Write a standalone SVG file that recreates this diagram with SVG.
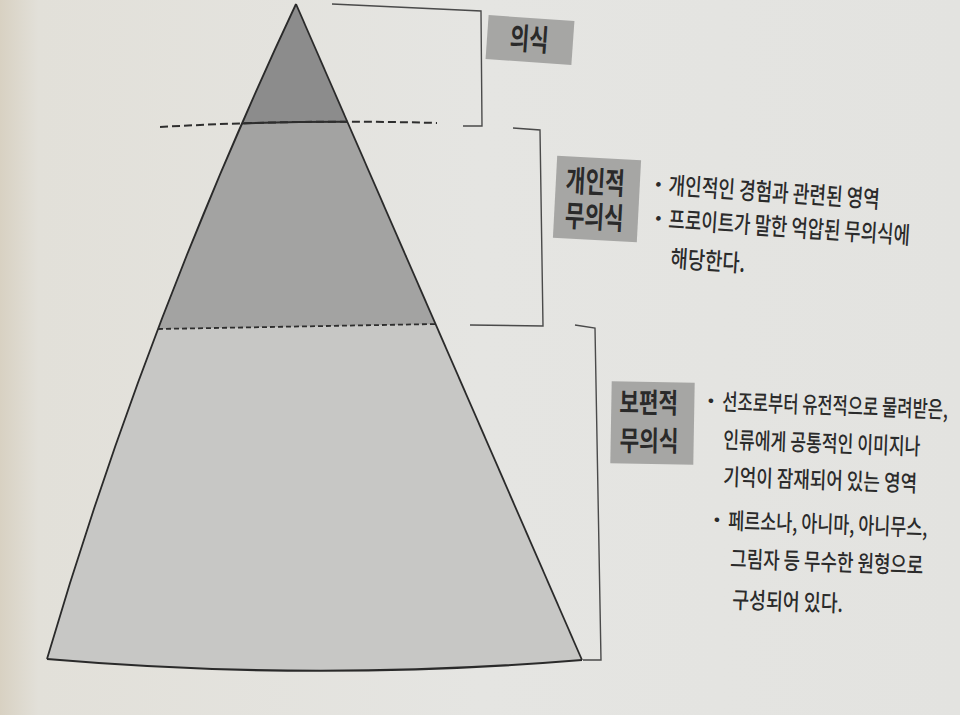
<svg xmlns="http://www.w3.org/2000/svg" width="960" height="715" viewBox="0 0 960 715">
<defs>
<style>
.lbl{font-family:"Noto Sans CJK KR","Noto Sans",sans-serif;font-size:30px;font-weight:700;fill:#2a2a2a}
.lbl3{font-family:"Noto Sans CJK KR","Noto Sans",sans-serif;font-size:28px;font-weight:700;fill:#2a2a2a}
.b2{font-family:"Noto Sans CJK KR","Noto Sans",sans-serif;font-size:24px;font-weight:500;fill:#2b2b2b}
.b3{font-family:"Noto Sans CJK KR","Noto Sans",sans-serif;font-size:23px;font-weight:500;fill:#2b2b2b}
.bul{font-family:"DejaVu Sans",sans-serif;font-size:16px;fill:#2b2b2b}
.box{fill:#a6a6a4}
.brk{fill:none;stroke:#4a4a4a;stroke-width:1.4}
.edge{fill:none;stroke:#2a2a2a;stroke-width:1.8}
</style>
<linearGradient id="bg" x1="0" y1="0" x2="1" y2="0">
<stop offset="0" stop-color="#d8d1c2"/>
<stop offset="0.04" stop-color="#e2e0d9"/>
<stop offset="0.5" stop-color="#e5e5e2"/>
<stop offset="1" stop-color="#e3e3e0"/>
</linearGradient>
<clipPath id="tri">
<path d="M296,4 L582,660 Q315,682 47,659 Q144.5,326.5 296,4 Z"/>
</clipPath>
</defs>
<rect x="0" y="0" width="960" height="715" fill="url(#bg)"/>

<g id="pyramid">
<path d="M296,4 L582,660 Q315,682 47,659 Q144.5,326.5 296,4 Z" fill="#c7c7c5"/>
<g clip-path="url(#tri)">
<path d="M0,-10 L960,-10 L960,124 L437,123 Q300,119 160,127 L0,128 Z" fill="#8c8c8c"/>
<path d="M0,128 L160,127 Q300,119 437,123 L960,124 L960,324 L437,324 L158,329 L0,330 Z" fill="#a3a3a2"/>
<path d="M160,127 Q300,119 437,123" fill="none" stroke="#2e2e2e" stroke-width="2"/>
</g>
<path d="M296,4 L582,660" class="edge"/>
<path d="M296,4 Q144.5,326.5 47,659" class="edge"/>
<path d="M47,659 Q315,682 582,660" fill="none" stroke="#2a2a2a" stroke-width="2.2"/>
<path d="M160,127 Q300,119 437,123" fill="none" stroke="#2e2e2e" stroke-width="2" stroke-dasharray="8 4"/>
<path d="M158,329 L437,324" fill="none" stroke="#2e2e2e" stroke-width="1.8" stroke-dasharray="5 3"/>
</g>

<g id="connectors">
<path class="brk" d="M332,4 L481,11 L482,126 L463,126"/>
<path class="brk" d="M513,128 L540,130 L543,326 L470,325"/>
<path class="brk" d="M575,325 L595,328 L601,660 L583,660"/>
</g>

<g id="conscious" transform="rotate(4 530 40)">
<rect class="box" x="487" y="18" width="86" height="44"/>
<text class="lbl" transform="translate(510,50) scale(0.7,1)" x="0" y="0">의식</text>
</g>

<g id="personal-unconscious">
<g transform="rotate(3 597 199)">
<rect class="box" x="555" y="158" width="84" height="82"/>
<text class="lbl" transform="translate(565,193) scale(0.71,1)"><tspan x="0" y="0">개인적</tspan><tspan x="1.4" y="35">무의식</tspan></text>
</g>
<g transform="translate(668,194) rotate(3.8)">
<text class="bul" x="-15" y="-3">•</text>
<text class="b2" transform="scale(0.72,1)" x="0" y="0" textLength="294" lengthAdjust="spacingAndGlyphs">개인적인 경험과 관련된 영역</text>
</g>
<g transform="translate(668,228) rotate(3.8)">
<text class="bul" x="-15" y="-3">•</text>
<text class="b2" transform="scale(0.72,1)" x="0" y="0" textLength="336" lengthAdjust="spacingAndGlyphs">프로이트가 말한 억압된 무의식에</text>
</g>
<text class="b2" transform="translate(670,267) rotate(3.8) scale(0.72,1)" x="0" y="0" textLength="104" lengthAdjust="spacingAndGlyphs">해당한다.</text>
</g>

<g id="collective-unconscious">
<g transform="rotate(1 653 423)">
<rect class="box" x="611" y="382" width="83" height="82"/>
<text class="lbl3" transform="translate(619,413) scale(0.76,1)"><tspan x="0" y="0">보편적</tspan><tspan x="1.3" y="38">무의식</tspan></text>
</g>
<g transform="translate(722,410) rotate(2)">
<text class="bul" x="-16" y="-3">•</text>
<text class="b3" transform="scale(0.68,1)" x="0" y="0" textLength="332" lengthAdjust="spacingAndGlyphs">선조로부터 유전적으로 물려받은,</text>
</g>
<text class="b3" transform="translate(723,448) rotate(2) scale(0.68,1)" x="0" y="0" textLength="290" lengthAdjust="spacingAndGlyphs">인류에게 공통적인 이미지나</text>
<text class="b3" transform="translate(723,485) rotate(2) scale(0.68,1)" x="0" y="0" textLength="285" lengthAdjust="spacingAndGlyphs">기억이 잠재되어 있는 영역</text>
<g transform="translate(728,529) rotate(2)">
<text class="bul" x="-16" y="-3">•</text>
<text class="b3" transform="scale(0.68,1)" x="0" y="0" textLength="293" lengthAdjust="spacingAndGlyphs">페르소나, 아니마, 아니무스,</text>
</g>
<text class="b3" transform="translate(730,567) rotate(2) scale(0.68,1)" x="0" y="0" textLength="284" lengthAdjust="spacingAndGlyphs">그림자 등 무수한 원형으로</text>
<text class="b3" transform="translate(732,608) rotate(2) scale(0.68,1)" x="0" y="0" textLength="163" lengthAdjust="spacingAndGlyphs">구성되어 있다.</text>
</g>
</svg>
